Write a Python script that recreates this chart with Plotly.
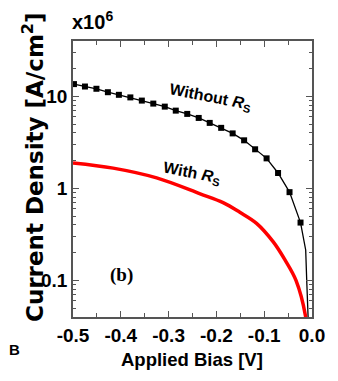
import plotly.graph_objects as go

# Without R_S: marker points
bias_markers = [-0.498, -0.475, -0.451, -0.427, -0.404, -0.380, -0.356, -0.332, -0.308, -0.285,
                -0.261, -0.237, -0.214, -0.190, -0.166, -0.142, -0.119, -0.095, -0.071, -0.047, -0.024]
j_without = [13.6, 12.8, 12.1, 11.1, 10.4, 9.75, 9.0, 8.35, 7.74, 7.0,
             6.45, 5.83, 5.15, 4.55, 3.96, 3.33, 2.66, 2.12, 1.47, 0.91, 0.425]
# extra points of the black curve's steep tail
bias_tail = [-0.0132, -0.0111, -0.0084, -0.006]
j_tail = [0.214, 0.102, 0.041, 0.02]

# With R_S: red curve
bias_with = [-0.5, -0.416, -0.325, -0.234, -0.186, -0.151, -0.116, -0.081, -0.0565, -0.0335, -0.0136, -0.008]
j_with = [1.89, 1.66, 1.30, 0.873, 0.70, 0.55, 0.417, 0.262, 0.167, 0.100, 0.041, 0.02]

x_ticks = [-0.5, -0.4, -0.3, -0.2, -0.1, 0.0]
x_tick_labels = ["-0.5", "-0.4", "-0.3", "-0.2", "-0.1", "0.0"]
y_ticks = [0.1, 1, 10]
y_tick_labels = ["0.1", "1", "10"]
y_minor = [m * 10 ** e for e in (-2, -1, 0, 1) for m in range(2, 10)]

FONT = "Liberation Sans, Arial, sans-serif"
WIDE = "DejaVu Sans, Liberation Sans, sans-serif"

fig = go.Figure()
fig.add_trace(go.Scatter(x=bias_markers + bias_tail, y=j_without + j_tail, mode="lines",
                         line=dict(color="black", width=1.3), showlegend=False))
fig.add_trace(go.Scatter(x=bias_markers, y=j_without, mode="markers",
                         marker=dict(symbol="square", size=6, color="black"), showlegend=False))
fig.add_trace(go.Scatter(x=bias_with, y=j_with, mode="lines", line_shape="spline",
                         line=dict(color="#ff0000", width=3.5), showlegend=False))

# page geometry (the page body has an 8px margin)
OFF = 8
PL, PT, PR, PB = 73, 41, 312, 317      # plot area in page pixels
W, H = 338 - OFF, 381 - OFF
L, T = PL - OFF, PT - OFF
R, B = W - (PR - OFF), H - (PB - OFF)
pw, ph = PR - PL, PB - PT

def px(x):
    return (x - PL) / pw

def py(y):
    return (PB - y) / ph

axis_common = dict(showgrid=False, zeroline=False, showline=True, linecolor="#555555", linewidth=1.5,
                   mirror="allticks", ticks="inside", ticklen=6, tickwidth=1.2, tickcolor="#555555",
                   automargin=False,
                   tickfont=dict(family=FONT, size=19, color="black", weight="bold"))

fig.update_layout(
    width=W, height=H, margin=dict(l=L, r=R, t=T, b=B),
    paper_bgcolor="white", plot_bgcolor="white",
    xaxis=dict(range=[-0.5, 0.0], tickvals=x_ticks, ticktext=x_tick_labels,
               minor=dict(dtick=0.05, tick0=0, ticks="inside", ticklen=4, tickcolor="#555555", showgrid=False),
               **axis_common),
    yaxis=dict(type="log", range=[-1.398, 1.602], tickvals=y_ticks, ticktext=y_tick_labels,
               minor=dict(tickvals=y_minor, ticks="inside", ticklen=3, tickcolor="#555555", showgrid=False),
               **axis_common),
    font=dict(family=FONT, color="black"),
)

anns = [
    dict(x=px(192), y=py(359), text="<b>Applied Bias [V]</b>", font=dict(size=18.5)),
    dict(x=px(33), y=py(167), text="<b>Current Density [A/cm<sup>2</sup>]</b>", textangle=-90,
         font=dict(size=23, family=WIDE)),
    dict(x=px(92), y=py(21), text="<b>x10<sup>6</sup></b>", font=dict(size=20)),
    dict(x=px(210), y=py(97), text="<b>Without <i>R</i><sub>S</sub></b>", textangle=11, font=dict(size=16)),
    dict(x=px(192), y=py(173), text="<b>With <i>R</i><sub>S</sub></b>", textangle=11, font=dict(size=16)),
    dict(x=px(121), y=py(275), text="<b>(b)</b>", font=dict(size=19, family="Liberation Serif, Times New Roman, serif")),
    dict(x=px(14), y=py(349), text="<b>B</b>", font=dict(size=15)),
]
for a in anns:
    a.update(xref="paper", yref="paper", showarrow=False, yanchor="middle", xanchor="center")
    fig.add_annotation(**a)

fig.write_html("out.html")
